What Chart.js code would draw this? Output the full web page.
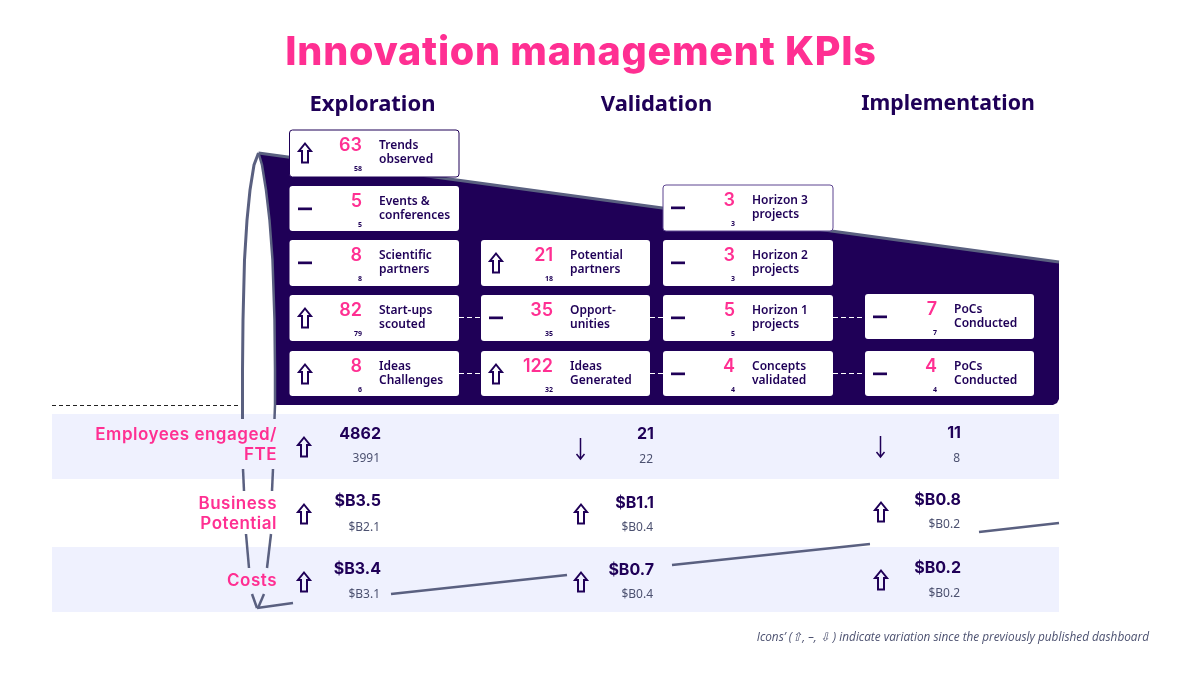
<!DOCTYPE html>
<html>
<head>
<meta charset="utf-8">
<title>Innovation management KPIs</title>
<script src="https://cdn.jsdelivr.net/npm/chart.js@4"></script>
<style>
    html, body { margin: 0; padding: 0; background: #ffffff; }
    #wrap { width: 1201px; height: 676px; }
</style>
</head>
<body>
<div id="wrap"><canvas id="chart" width="1201" height="676"></canvas></div>
<script>
const stages = ["Exploration", "Validation", "Implementation"];

// KPI cards, one entry per card
const cardNames = [
    ["Trends", "observed"], ["Events &", "conferences"], ["Scientific", "partners"],
    ["Start-ups", "scouted"], ["Ideas", "Challenges"],
    ["Potential", "partners"], ["Opport-", "unities"], ["Ideas", "Generated"],
    ["Horizon 3", "projects"], ["Horizon 2", "projects"], ["Horizon 1", "projects"],
    ["Concepts", "validated"],
    ["PoCs", "Conducted"], ["PoCs", "Conducted"],
];
const cardValues = [63, 5, 8, 82, 8, 21, 35, 122, 3, 3, 5, 4, 7, 4];
const cardPrevious = [58, 5, 8, 79, 6, 18, 35, 32, 3, 3, 5, 4, 7, 4];
const cardTrends = ["up", "flat", "flat", "up", "up", "up", "flat", "up", "flat", "flat", "flat", "flat", "flat", "flat"];

// metric rows under the funnel
const metricRows = [["Employees engaged/", "FTE"], ["Business", "Potential"], ["Costs"]];
const metricValues = [["4862", "21", "11"], ["$B3.5", "$B1.1", "$B0.8"], ["$B3.4", "$B0.7", "$B0.2"]];
const metricPrevious = [["3991", "22", "8"], ["$B2.1", "$B0.4", "$B0.2"], ["$B3.1", "$B0.4", "$B0.2"]];
const metricTrends = [["up", "down", "down"], ["up", "up", "up"], ["up", "up", "up"]];

const footnote = "Icons’ (⇧, –, ⇩ ) indicate variation since the previously published dashboard";

// funnel outline
const funnelLeftEdge = [[258.5, 153], [254, 165], [250, 190], [247, 220], [244.5, 260], [243, 320], [242.5, 370], [242.5, 419]];
const funnelRightEdge = [[258.5, 153], [262, 165], [266, 190], [269.5, 220], [272.5, 260], [274.5, 320], [275, 370], [275, 405], [274.5, 419]];
const funnelTopEdge = [[258.5, 153], [1059, 262]];
const funnelBody = [[258.5, 153], [1059, 262], [1059, 399], [1057, 403], [1053, 405], [275, 405], [275, 370], [274.5, 320], [272.5, 260], [269.5, 220], [266, 190], [262, 165]];
const lowerSegments = [
    [[243, 469], [244, 491]], [[246, 534], [249, 568]], [[252, 594], [257, 608]],
    [[273, 469], [272, 491]], [[271, 534], [267, 568]], [[264, 594], [258, 608]],
    [[257, 608], [293, 603]], [[391, 594], [567, 575]], [[672, 565], [870, 544]], [[979, 532], [1059, 523]],
];
const bandBoxes = [[52, 414, 1059, 479], [52, 547, 1059, 612]];
const baselineDash = [[52, 405.5], [241, 405.5]];
const connectorDashes = [
    [[459, 317.5], [481, 317.5]], [[650, 317.5], [663, 317.5]], [[833, 317.5], [865, 317.5]],
    [[459, 373.5], [481, 373.5]], [[650, 373.5], [663, 373.5]], [[833, 373.5], [865, 373.5]],
];

// layout
const INK = "#1f0057";
const PINK = "#ff2f92";
const EDGE = "#5a6080";
const BODY_FONT = "'Noto Sans'";
const HEAD_FONT = "Inter";
const cardBoxes = [
    [289.5, 130, 459, 177], [289.5, 186, 459, 231], [289.5, 240, 459, 286], [289.5, 295, 459, 341], [289.5, 351, 459, 396],
    [481, 240, 650, 286], [481, 295, 650, 341], [481, 351, 650, 396],
    [663, 185, 833, 231], [663, 240, 833, 286], [663, 295, 833, 341], [663, 351, 833, 396],
    [865, 294, 1034, 339], [865, 351, 1034, 396],
];
const stageHeads = [[372.5, 105], [656.5, 105], [948, 104]];
const stageSizes = [22, 22, 21.3];
const metricIconX = [304, 581, 881];
const metricRightX = [381, 654, 961];
const metricY = [[434, 434, 433], [501, 503, 500], [569, 570, 568]];
const metricPrevY = [[459, 460, 459], [528, 528, 525], [595, 595, 594]];
const metricIconY = [[447, 449, 447], [514, 514, 512], [582, 582, 580]];
const rowLabelY = [[435, 455], [504, 524], [581]];

const xy = (pts) => pts.map(([x, y]) => ({ x, y }));

const lineSet = (pts, extra) => Object.assign({
    data: xy(pts), showLine: true, pointRadius: 0, borderColor: EDGE, borderWidth: 2.5, clip: false,
}, extra);

const boxPoints = ([x0, y0, x1, y1]) => [[x0, y0], [x1, y0], [x1, y1], [x0, y1]];

const datasets = [];
connectorDashes.forEach((d) => datasets.push(lineSet(d, { borderColor: "#ffffff", borderWidth: 1, borderDash: [5, 3], order: 1 })));
lowerSegments.forEach((s) => datasets.push(lineSet(s, { order: 2 })));
datasets.push(lineSet(funnelLeftEdge, { order: 2, borderWidth: 3 }));
datasets.push(lineSet(funnelRightEdge, { order: 2, borderWidth: 2.5 }));
datasets.push(lineSet(funnelTopEdge, { order: 2, borderWidth: 3 }));
datasets.push(lineSet(baselineDash, { borderColor: "#222222", borderWidth: 1, borderDash: [4, 3], order: 3 }));
datasets.push(lineSet(funnelBody, { borderWidth: 0, polygonFill: INK, order: 4 }));
bandBoxes.forEach((b) => datasets.push(lineSet(boxPoints(b), { borderWidth: 0, polygonFill: "#eff1fe", order: 5 })));

// fills a dataset's points as a closed shape, the filler cannot do loops
const polygonPlugin = {
    id: "polygonFill",
    beforeDatasetDraw(chart, args) {
        const ds = chart.data.datasets[args.index];
        if (!ds.polygonFill) return;
        const ctx = chart.ctx;
        ctx.save();
        ctx.fillStyle = ds.polygonFill;
        ctx.beginPath();
        args.meta.data.forEach((p, i) => (i ? ctx.lineTo(p.x, p.y) : ctx.moveTo(p.x, p.y)));
        ctx.closePath();
        ctx.fill();
        ctx.restore();
    },
};

function put(ctx, text, x, y, font, color, align, spacing) {
    ctx.font = font;
    ctx.fillStyle = color;
    ctx.textAlign = align || "left";
    ctx.textBaseline = "middle";
    ctx.letterSpacing = spacing || "0px";
    ctx.fillText(text, x, y);
    ctx.letterSpacing = "0px";
}

function drawTrend(ctx, trend, x, y) {
    ctx.strokeStyle = INK;
    ctx.lineJoin = "miter";
    if (trend === "up") {
        ctx.lineWidth = 2;
        ctx.beginPath();
        ctx.moveTo(x, y - 9.5);
        ctx.lineTo(x + 6, y - 2);
        ctx.lineTo(x + 3, y - 2);
        ctx.lineTo(x + 3, y + 9.5);
        ctx.lineTo(x - 3, y + 9.5);
        ctx.lineTo(x - 3, y - 2);
        ctx.lineTo(x - 6, y - 2);
        ctx.closePath();
        ctx.stroke();
    } else if (trend === "down") {
        ctx.lineWidth = 1.5;
        ctx.beginPath();
        ctx.moveTo(x - 0.5, y - 11);
        ctx.lineTo(x - 0.5, y + 10);
        ctx.moveTo(x - 4.5, y + 5);
        ctx.lineTo(x - 0.5, y + 10);
        ctx.lineTo(x + 3.5, y + 5);
        ctx.stroke();
    } else {
        ctx.fillStyle = INK;
        ctx.fillRect(x - 7, y - 1.5, 14, 2.7);
    }
}

const textPlugin = {
    id: "kpiText",
    afterDatasetsDraw(chart) {
        const ctx = chart.ctx;
        const px = (v) => chart.scales.x.getPixelForValue(v);
        const py = (v) => chart.scales.y.getPixelForValue(v);
        ctx.save();

        cardBoxes.forEach((box, i) => {
            const x0 = px(box[0]), y0 = py(box[1]), x1 = px(box[2]), y1 = py(box[3]);
            ctx.beginPath();
            ctx.roundRect(x0, y0, x1 - x0, y1 - y0, 3);
            ctx.fillStyle = "#ffffff";
            ctx.fill();
            if (i === 0 || i === 8) {
                ctx.lineWidth = 1;
                ctx.strokeStyle = i === 0 ? INK : "#5d4590";
                ctx.stroke();
            }

            const left = Math.round(x0);
            drawTrend(ctx, cardTrends[i], left + 15, y0 + 23);
            put(ctx, String(cardValues[i]), left + 72, y0 + 16, `600 18px ${HEAD_FONT}`, PINK, "right");
            put(ctx, String(cardPrevious[i]), left + 72, y0 + 38.5, `bold 7px ${BODY_FONT}`, INK, "right");
            put(ctx, cardNames[i][0], left + 89, y0 + 16, `600 12px ${BODY_FONT}`, INK);
            put(ctx, cardNames[i][1], left + 89, y0 + 30, `600 12px ${BODY_FONT}`, INK);
        });

        metricRows.forEach((lines, r) => {
            lines.forEach((line, j) => put(ctx, line, px(277), py(rowLabelY[r][j]), `600 17px ${HEAD_FONT}`, PINK, "right", "0.5px"));
            metricValues[r].forEach((val, c) => {
                drawTrend(ctx, metricTrends[r][c], px(metricIconX[c]), py(metricIconY[r][c]));
                put(ctx, val, px(metricRightX[c]), py(metricY[r][c]), `bold 16px ${HEAD_FONT}`, INK, "right");
                put(ctx, metricPrevious[r][c], px(metricRightX[c] - 1), py(metricPrevY[r][c]), `12px ${BODY_FONT}`, "#4c5170", "right");
            });
        });

        stages.forEach((s, i) => put(ctx, s, px(stageHeads[i][0]), py(stageHeads[i][1]), `bold ${stageSizes[i]}px ${BODY_FONT}`, INK, "center"));
        put(ctx, "Innovation management KPIs", px(581), py(53.5), `800 39.5px ${HEAD_FONT}`, PINK, "center", "0.75px");
        put(ctx, footnote, px(1149), py(638), `italic 11.8px 'Open Sans'`, "#4c5170", "right");
        ctx.restore();
    },
};

new Chart(document.getElementById("chart"), {
    type: "scatter",
    data: { datasets },
    options: {
        responsive: false,
        animation: false,
        layout: { padding: 0 },
        plugins: { legend: { display: false }, tooltip: { enabled: false }, title: { display: false } },
        scales: {
            x: { type: "linear", min: 0, max: 1201, display: false },
            y: { type: "linear", min: 0, max: 676, reverse: true, display: false },
        },
    },
    plugins: [polygonPlugin, textPlugin],
});
</script>
</body>
</html>
